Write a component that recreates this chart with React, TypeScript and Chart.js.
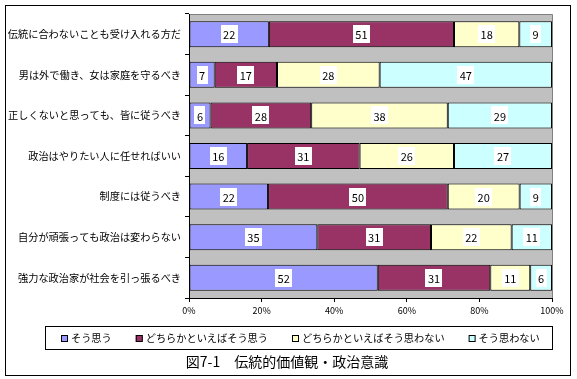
import React, { useEffect, useRef } from "react";
import { Chart, registerables } from "chart.js";

Chart.register(...registerables);

const categories = [
  "伝統に合わないことも受け入れる方だ",
  "男は外で働き、女は家庭を守るべき",
  "正しくないと思っても、皆に従うべき",
  "政治はやりたい人に任せればいい",
  "制度には従うべき",
  "自分が頑張っても政治は変わらない",
  "強力な政治家が社会を引っ張るべき",
];
const seriesNames = [
  "そう思う",
  "どちらかといえばそう思う",
  "どちらかといえばそう思わない",
  "そう思わない",
];
const agree = [22, 7, 6, 16, 22, 35, 52];
const somewhatAgree = [51, 17, 28, 31, 50, 31, 31];
const somewhatDisagree = [18, 28, 38, 26, 20, 22, 11];
const disagree = [9, 47, 29, 27, 9, 11, 6];
const colors = ["#9999FF", "#993366", "#FFFFCC", "#CCFFFF"];
const xTicks = [0, 20, 40, 60, 80, 100];
const titleText = "図7-1　伝統的価値観・政治意識";

const FONT = "'Noto Sans CJK JP', sans-serif";

export default function App() {
  const ref = useRef<HTMLCanvasElement>(null);
  useEffect(() => {
    const raw = [agree, somewhatAgree, somewhatDisagree, disagree];
    const totals = categories.map((_, i) => raw.reduce((s, a) => s + a[i], 0));
    const datasets = raw.map((arr, k) => ({
      label: seriesNames[k],
      data: arr.map((v, i) => (v / totals[i]) * 100),
      raw: arr,
      backgroundColor: colors[k],
      borderColor: "#000000",
      borderWidth: 1,
      borderSkipped: false,
      barPercentage: 0.64,
      categoryPercentage: 1,
    }));

    const bgPlugin = {
      id: "bg",
      beforeDraw(chart: any) {
        const { ctx, chartArea: a } = chart;
        ctx.save();
        ctx.fillStyle = "#FFFFFF";
        ctx.fillRect(0, 0, chart.width, chart.height);
        ctx.strokeStyle = "#000000";
        ctx.lineWidth = 1;
        ctx.strokeRect(5.5, 5.5, 565, 370);
        ctx.fillStyle = "#C0C0C0";
        ctx.fillRect(a.left, a.top, a.right - a.left, a.bottom - a.top);
        ctx.strokeStyle = "#808080";
        ctx.beginPath();
        ctx.moveTo(a.left, a.top + 0.5);
        ctx.lineTo(a.right + 0.5, a.top + 0.5);
        ctx.lineTo(a.right + 0.5, a.bottom);
        ctx.stroke();
        ctx.restore();
      },
      afterDraw(chart: any) {
        const { ctx } = chart;
        ctx.save();
        // data labels
        ctx.font = "11px " + FONT;
        ctx.textAlign = "center";
        ctx.textBaseline = "middle";
        chart.data.datasets.forEach((ds: any, di: number) => {
          const meta = chart.getDatasetMeta(di);
          meta.data.forEach((el: any, i: number) => {
            const txt = String(ds.raw[i]);
            const cx = (el.x + el.base) / 2;
            const cy = el.y;
            const w = ctx.measureText(txt).width + 5;
            const h = 18;
            ctx.fillStyle = "#FFFFFF";
            ctx.fillRect(Math.round(cx - w / 2), Math.round(cy - h / 2), Math.round(w), h);
            ctx.fillStyle = "#000000";
            ctx.fillText(txt, cx, cy + 1);
          });
        });
        // legend
        const xAxis = chart.scales.x;
        const boxTop = Math.round(xAxis.bottom) + 4;
        const boxH = 23;
        const centerX = 298.5;
        const boxW = 507;
        const left = Math.round(centerX - boxW / 2);
        ctx.strokeStyle = "#000000";
        ctx.lineWidth = 1;
        ctx.strokeRect(left + 0.5, boxTop + 0.5, boxW, boxH);
        ctx.font = "10.2px " + FONT;
        ctx.textAlign = "left";
        const sw = 7, gapT = 3, gapI = 24;
        const widths = chart.data.datasets.map((ds: any) => sw + gapT + ctx.measureText(ds.label).width);
        const total = widths.reduce((s: number, w: number) => s + w, 0) + gapI * (widths.length - 1);
        let x = Math.round(300.5 - total / 2);
        const cy = boxTop + boxH / 2 + 0.5;
        chart.data.datasets.forEach((ds: any, i: number) => {
          ctx.fillStyle = ds.backgroundColor;
          ctx.fillRect(x, Math.round(cy - sw / 2), sw, sw);
          ctx.strokeStyle = "#000000";
          ctx.strokeRect(x + 0.5, Math.round(cy - sw / 2) + 0.5, sw - 1, sw - 1);
          ctx.fillStyle = "#000000";
          ctx.fillText(ds.label, x + sw + gapT, cy);
          x += widths[i] + gapI;
        });
        // title
        ctx.font = "14px " + FONT;
        ctx.textAlign = "center";
        ctx.fillText(titleText, 287, 362);
        ctx.restore();
      },
    };

    const chart = new Chart(ref.current!, {
      type: "bar",
      data: { labels: categories, datasets: datasets as any },
      options: {
        indexAxis: "y",
        responsive: false,
        animation: false,
        layout: { padding: { left: 0, right: 25, top: 14, bottom: 57 } },
        scales: {
          x: {
            stacked: true,
            min: 0,
            max: 100,
            afterBuildTicks(scale: any) {
              scale.ticks = xTicks.map((v) => ({ value: v }));
            },
            afterFit(scale: any) {
              scale.height = 24;
            },
            ticks: {
              callback: (v: any) => v + "%",
              font: { family: FONT, size: 9 },
              color: "#000000",
              padding: 3,
              maxRotation: 0,
            },
            grid: {
              drawOnChartArea: false,
              color: "#000000",
              tickLength: 4,
            },
            border: { color: "#000000" },
          },
          y: {
            stacked: true,
            afterFit(scale: any) {
              scale.width = 189;
            },
            ticks: {
              font: { family: FONT, size: 10.2 },
              color: "#000000",
              padding: 4,
            },
            grid: {
              offset: true,
              drawOnChartArea: false,
              color: "#000000",
              tickLength: 4,
            },
            border: { color: "#000000" },
          },
        },
        plugins: {
          tooltip: { enabled: false },
          legend: { display: false },
          title: { display: false },
        },
      },
      plugins: [bgPlugin],
    });
    return () => chart.destroy();
  }, []);
  return (
    <div style={{ position: "fixed", left: 0, top: 0, width: 577, height: 379, background: "#fff" }}>
      <canvas ref={ref} width={577} height={379} style={{ width: 577, height: 379, display: "block" }} />
    </div>
  );
}
